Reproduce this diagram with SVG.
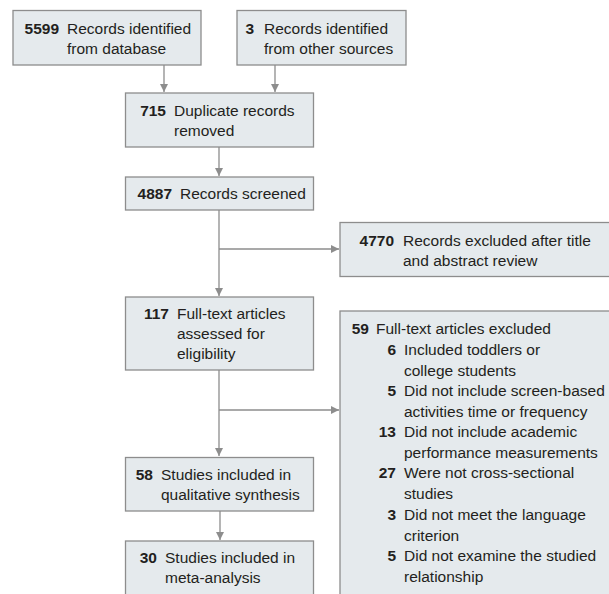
<svg xmlns="http://www.w3.org/2000/svg" width="609" height="594" viewBox="0 0 609 594">
<defs>
<style>
.box{fill:#e5eaed;stroke:#8d8d8d;stroke-width:1.3}
.t{font-family:"Liberation Sans",Arial,sans-serif;font-size:15.5px;fill:#231f20}
.n{font-family:"Liberation Sans",Arial,sans-serif;font-size:15.5px;font-weight:bold;fill:#231f20;text-anchor:end}
.c{fill:none;stroke:#8d8d8d;stroke-width:1.3}
</style>
<marker id="ah" markerUnits="userSpaceOnUse" markerWidth="8" markerHeight="8" refX="8" refY="4" orient="auto">
<path d="M0,0 L8,4 L0,8 z" fill="#8d8d8d"/>
</marker>
</defs>
<rect width="609" height="594" fill="#ffffff"/>
<g id="connectors">
<line class="c" x1="164" y1="65" x2="164" y2="92" marker-end="url(#ah)"/>
<line class="c" x1="275" y1="65" x2="275" y2="92" marker-end="url(#ah)"/>
<line class="c" x1="219" y1="147" x2="219" y2="176" marker-end="url(#ah)"/>
<line class="c" x1="219" y1="210" x2="219" y2="296" marker-end="url(#ah)"/>
<line class="c" x1="219" y1="249" x2="339" y2="249" marker-end="url(#ah)"/>
<line class="c" x1="219" y1="370" x2="219" y2="456" marker-end="url(#ah)"/>
<line class="c" x1="219" y1="410" x2="339" y2="410" marker-end="url(#ah)"/>
<line class="c" x1="220" y1="511" x2="220" y2="540" marker-end="url(#ah)"/>
</g>
<g id="db">
<rect class="box" x="13" y="10.5" width="188" height="54.5"/>
<text class="n" x="59" y="34">5599</text>
<text class="t" x="67" y="34">Records identified</text>
<text class="t" x="67" y="54">from database</text>
</g>
<g id="other">
<rect class="box" x="237" y="10.5" width="169" height="54.5"/>
<text class="n" x="254" y="34">3</text>
<text class="t" x="264" y="34">Records identified</text>
<text class="t" x="264" y="54">from other sources</text>
</g>
<g id="dup">
<rect class="box" x="125.5" y="93" width="188" height="54"/>
<text class="n" x="166" y="116">715</text>
<text class="t" x="174" y="116">Duplicate records</text>
<text class="t" x="174" y="136">removed</text>
</g>
<g id="screened">
<rect class="box" x="125.5" y="177" width="188" height="33"/>
<text class="n" x="172" y="199">4887</text>
<text class="t" x="180" y="199">Records screened</text>
</g>
<g id="excluded1">
<rect class="box" x="340" y="222.5" width="275" height="54"/>
<text class="n" x="394" y="246">4770</text>
<text class="t" x="403" y="246">Records excluded after title</text>
<text class="t" x="403" y="266">and abstract review</text>
</g>
<g id="fulltext">
<rect class="box" x="125.5" y="297" width="188" height="73"/>
<text class="n" x="169" y="319">117</text>
<text class="t" x="177" y="319">Full-text articles</text>
<text class="t" x="177" y="339">assessed for</text>
<text class="t" x="177" y="359">eligibility</text>
</g>
<g id="excluded2">
<rect class="box" x="340" y="311" width="275" height="300"/>
<text class="n" x="369" y="334">59</text>
<text class="t" x="376" y="334">Full-text articles excluded</text>
<text class="n" x="396" y="355">6</text>
<text class="t" x="404" y="355">Included toddlers or</text>
<text class="t" x="404" y="375.5">college students</text>
<text class="n" x="396" y="396">5</text>
<text class="t" x="404" y="396">Did not include screen-based</text>
<text class="t" x="404" y="416.5">activities time or frequency</text>
<text class="n" x="396" y="437">13</text>
<text class="t" x="404" y="437">Did not include academic</text>
<text class="t" x="404" y="457.5">performance measurements</text>
<text class="n" x="396" y="478">27</text>
<text class="t" x="404" y="478">Were not cross-sectional</text>
<text class="t" x="404" y="498.5">studies</text>
<text class="n" x="396" y="520">3</text>
<text class="t" x="404" y="520">Did not meet the language</text>
<text class="t" x="404" y="540.5">criterion</text>
<text class="n" x="396" y="561">5</text>
<text class="t" x="404" y="561">Did not examine the studied</text>
<text class="t" x="404" y="581.5">relationship</text>
</g>
<g id="qualitative">
<rect class="box" x="125.5" y="457.5" width="188" height="53.5"/>
<text class="n" x="153" y="480">58</text>
<text class="t" x="161" y="480">Studies included in</text>
<text class="t" x="161" y="500">qualitative synthesis</text>
</g>
<g id="meta">
<rect class="box" x="125.5" y="541" width="188" height="70"/>
<text class="n" x="157" y="563">30</text>
<text class="t" x="165" y="563">Studies included in</text>
<text class="t" x="165" y="583">meta-analysis</text>
</g>
</svg>
